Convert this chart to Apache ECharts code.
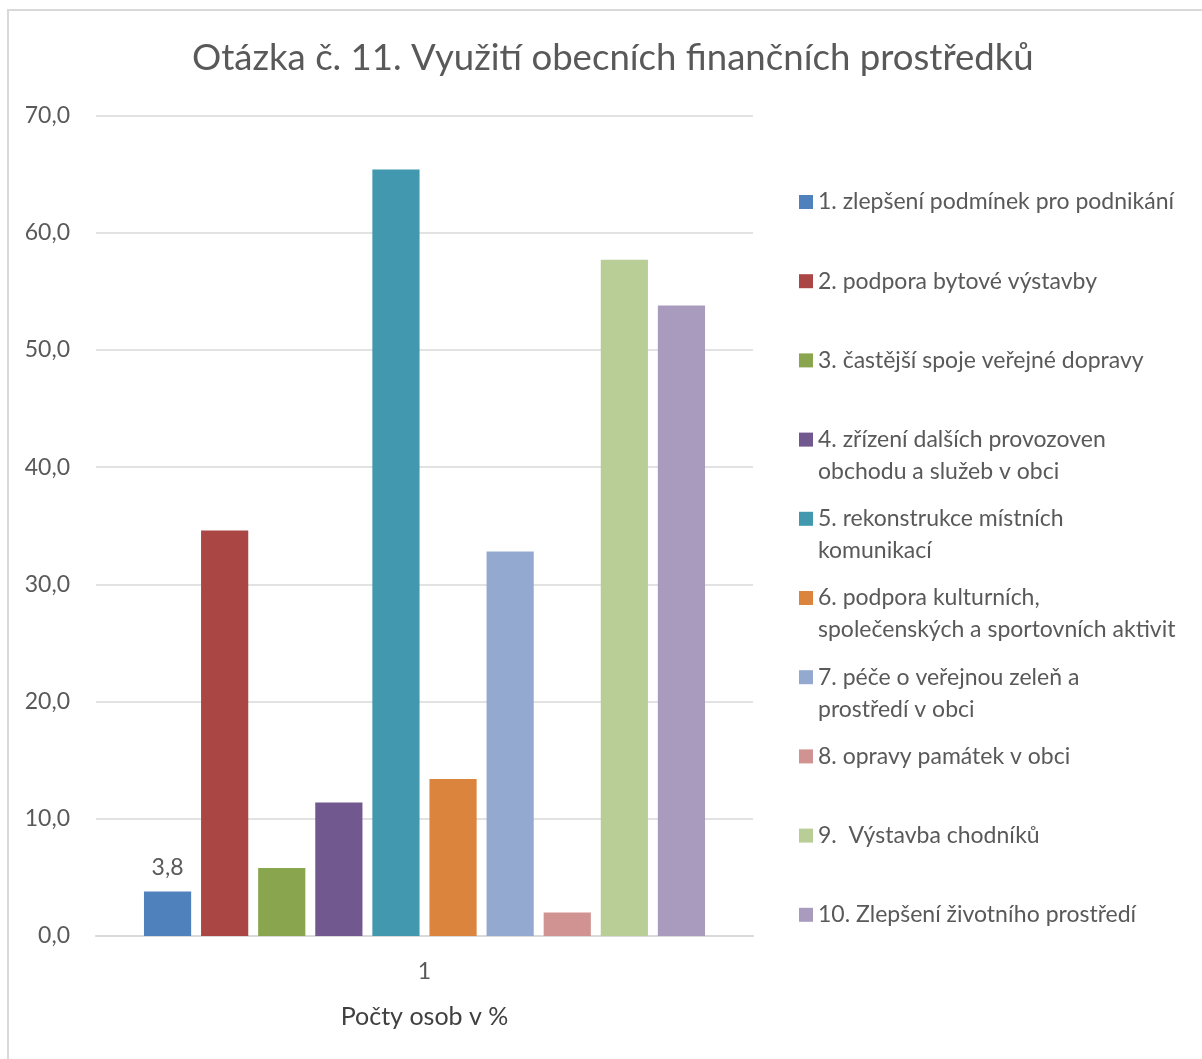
<!DOCTYPE html>
<html>
<head>
<meta charset="utf-8">
<script src="https://cdn.jsdelivr.net/npm/echarts@6/dist/echarts.min.js"></script>
<style>
  html, body { margin: 0; padding: 0; background: #fff; }
  #chart { width: 1202px; height: 1059px; }
</style>
</head>
<body>
<div id="chart"></div>
<script>
// data
var categories = ['1'];
var seriesNames = [
  '1. zlepšení podmínek pro podnikání',
  '2. podpora bytové výstavby',
  '3. častější spoje veřejné dopravy',
  '4. zřízení dalších provozoven obchodu a služeb v obci',
  '5. rekonstrukce místních komunikací',
  '6. podpora kulturních, společenských a sportovních aktivit',
  '7. péče o veřejnou zeleň a prostředí v obci',
  '8. opravy památek v obci',
  '9.  Výstavba chodníků',
  '10. Zlepšení životního prostředí'
];
var legendLabels = [
  '1. zlepšení podmínek pro podnikání',
  '2. podpora bytové výstavby',
  '3. častější spoje veřejné dopravy',
  '4. zřízení dalších provozoven\nobchodu a služeb v obci',
  '5. rekonstrukce místních\nkomunikací',
  '6. podpora kulturních,\nspolečenských a sportovních aktivit',
  '7. péče o veřejnou zeleň a\nprostředí v obci',
  '8. opravy památek v obci',
  '9.  Výstavba chodníků',
  '10. Zlepšení životního prostředí'
];
var values = [3.8, 34.6, 5.8, 11.4, 65.4, 13.4, 32.8, 2.0, 57.7, 53.8];
var showLabel = [true, false, false, false, false, false, false, false, false, false];
var colors = ['#4F81BD', '#AA4644', '#89A54E', '#71588F', '#4198AF',
              '#DB843D', '#93A9CF', '#D19392', '#B9CD96', '#A99BBD'];

var FONT = 'Lato, "Open Sans", sans-serif';
var TXT = '#595959';

function comma(v) { return Number(v).toFixed(1).replace('.', ','); }

var chart = echarts.init(document.getElementById('chart'));

var series = [];
var legends = [];
for (var i = 0; i < seriesNames.length; i++) {
  series.push({
    name: seriesNames[i],
    type: 'bar',
    barGap: '21%',
    barCategoryGap: '14.6%',
    itemStyle: { color: colors[i] },
    label: {
      show: showLabel[i],
      position: 'top',
      distance: 12,
      fontFamily: FONT,
      fontSize: 23,
      color: TXT,
      formatter: function (p) { return comma(p.value); }
    },
    data: [values[i]]
  });
  // two-line entries: an empty first line keeps the icon level with the first text line
  var twoLines = legendLabels[i].indexOf('\n') >= 0;
  var cy = 202 + i * 79.2;
  legends.push({
    orient: 'vertical',
    left: 799,
    top: twoLines ? cy - 48 : cy - 16,
    padding: 0,
    itemWidth: 14,
    itemHeight: 14,
    itemGap: 0,
    icon: 'rect',
    selectedMode: false,
    data: [seriesNames[i]],
    formatter: (function (lbl, two) {
      return function () { return two ? '\n' + lbl : lbl; };
    })(legendLabels[i], twoLines),
    textStyle: {
      fontFamily: FONT,
      fontSize: 23,
      color: TXT,
      lineHeight: 32
    }
  });
}

var option = {
  backgroundColor: '#fff',
  animation: false,
  color: colors,
  title: {
    text: 'Otázka č. 11. Využití obecních finančních prostředků',
    left: 187,
    top: 35,
    textStyle: { fontFamily: FONT, fontSize: 36.6, fontWeight: 'normal', color: TXT }
  },
  graphic: [{
    type: 'rect',
    shape: { x: 8, y: 10, width: 1300, height: 1200 },
    style: { fill: 'none', stroke: '#d9d9d9', lineWidth: 2 },
    silent: true
  }],
  legend: legends,
  grid: { left: 96, right: 449, top: 115.5, bottom: 123, containLabel: false },
  xAxis: {
    type: 'category',
    data: categories,
    axisTick: { show: false },
    axisLine: { lineStyle: { color: '#d9d9d9', width: 2 } },
    axisLabel: { margin: 24, fontFamily: FONT, fontSize: 23, color: TXT },
    name: 'Počty osob v %',
    nameLocation: 'middle',
    nameGap: 68,
    nameTextStyle: { fontFamily: FONT, fontSize: 25, color: '#404040' }
  },
  yAxis: {
    type: 'value',
    min: 0,
    max: 70,
    interval: 10,
    axisLine: { show: false },
    axisTick: { show: false },
    splitLine: { lineStyle: { color: '#d9d9d9', width: 1.5 } },
    axisLabel: {
      margin: 26,
      fontFamily: FONT,
      fontSize: 23,
      color: TXT,
      formatter: function (v) { return comma(v); }
    }
  },
  series: series
};

chart.setOption(option);
</script>
</body>
</html>
